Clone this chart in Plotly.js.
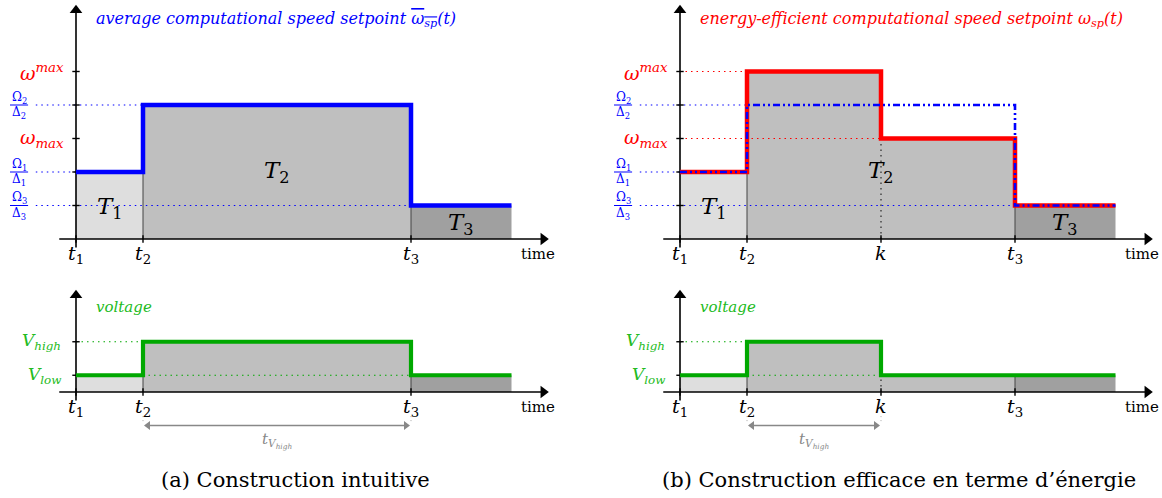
<!DOCTYPE html>
<html><head><meta charset="utf-8">
<script src="https://cdn.plot.ly/plotly-3.0.1.min.js"></script>
<style>html,body{margin:0;padding:0;background:#fff}</style>
</head><body><div id="chart" style="width:1162px;height:498px"></div>
<script>
// ---------------- data ----------------
const taskBounds = [0, 2, 10, 13];          // t1, t2, t3, end of T3
const timeTickVals = [0, 2, 10];             // t1, t2, t3
const timeTickNames = ['1', '2', '3'];
const kTime = 6;                             // switching instant k
const avgTimes = [0, 2, 10, 13];
const avgSpeed = [2, 4, 1];                  // Ω1/Δ1, Ω2/Δ2, Ω3/Δ3
const effTimes = [0, 2, 6, 10, 13];
const effSpeed = [2, 5, 3, 1];               // energy-efficient setpoint
const fracLevels = [4, 2, 1];
const fracIndex = ['2', '1', '3'];
const omegaLevels = [5, 3];
const omegaLabels = ['ω<sup>max</sup>', 'ω<sub>max</sub>'];
const voltATimes = [0, 2, 10, 13];
const voltAValues = [0.5, 1.5, 0.5];
const voltBTimes = [0, 2, 6, 13];
const voltBValues = [0.5, 1.5, 0.5];
const vLevels = [1.5, 0.5];
const vLabels = ['V<sub>high</sub>', 'V<sub>low</sub>'];
const taskNames = ['1', '2', '3'];
const fillColors = ['#dedede', '#bfbfbf', '#a0a0a0'];

// ---------------- geometry ----------------
const W = 1162, H = 498, S = 33.5;
const FONT = 'DejaVu Serif, serif';
const BLUE = '#0000ff', RED = '#ff0000', GREEN = '#00a800', GLAB = '#22bb22', GRAY = '#888888';

const panels = {
  aTop: {xa: 'x',  ya: 'y',  ox: 76,  oy: 239, px: [0, 580],    py: [0, 262]},
  aBot: {xa: 'x2', ya: 'y2', ox: 76,  oy: 392, px: [0, 580],    py: [262, 462]},
  bTop: {xa: 'x3', ya: 'y3', ox: 680, oy: 239, px: [581, 1162], py: [0, 262]},
  bBot: {xa: 'x4', ya: 'y4', ox: 680, oy: 392, px: [581, 1162], py: [262, 462]}
};

const layout = {
  width: W, height: H, margin: {l: 0, r: 0, t: 0, b: 0},
  paper_bgcolor: '#fff', plot_bgcolor: 'rgba(0,0,0,0)', showlegend: false,
  font: {family: FONT},
  annotations: [], shapes: []
};
Object.values(panels).forEach(p => {
  const xn = p.xa === 'x' ? 'xaxis' : 'xaxis' + p.xa.slice(1);
  const yn = p.ya === 'y' ? 'yaxis' : 'yaxis' + p.ya.slice(1);
  layout[xn] = {domain: [p.px[0] / W, p.px[1] / W], range: [(p.px[0] - p.ox) / S, (p.px[1] - p.ox) / S],
    visible: false, fixedrange: true, anchor: p.ya};
  layout[yn] = {domain: [1 - p.py[1] / H, 1 - p.py[0] / H], range: [(p.oy - p.py[1]) / S, (p.oy - p.py[0]) / S],
    visible: false, fixedrange: true, anchor: p.xa};
});

const traces = [];
function line(p, xs, ys, color, width, dash) {
  traces.push({type: 'scatter', mode: 'lines', x: xs, y: ys, xaxis: p.xa, yaxis: p.ya,
    line: {color: color, width: width, dash: dash || 'solid'}, hoverinfo: 'skip', cliponaxis: false});
}
function marker(p, x, y, sym, color, size) {
  traces.push({type: 'scatter', mode: 'markers', x: [x], y: [y], xaxis: p.xa, yaxis: p.ya,
    marker: {symbol: sym, color: color, size: size, line: {width: 0}}, hoverinfo: 'skip', cliponaxis: false});
}
function stepXY(times, vals) {
  const x = [], y = [];
  for (let j = 0; j < vals.length; j++) { x.push(times[j], times[j + 1]); y.push(vals[j], vals[j]); }
  return {x, y};
}
function valueAt(times, vals, t) {
  for (let j = 0; j < vals.length; j++) if (t >= times[j] && t < times[j + 1]) return vals[j];
  return vals[vals.length - 1];
}
function firstTimeAt(times, vals, v) {
  for (let j = 0; j < vals.length; j++) if (vals[j] === v) return times[j];
  return times[0];
}
function regionFills(p, times, vals) {
  for (let i = 0; i < taskBounds.length - 1; i++) {
    const a = taskBounds[i], b = taskBounds[i + 1];
    const x = [a], y = [0];
    for (let j = 0; j < vals.length; j++) {
      const s = Math.max(a, times[j]), e = Math.min(b, times[j + 1]);
      if (e > s) { x.push(s, e); y.push(vals[j], vals[j]); }
    }
    x.push(b, a); y.push(0, 0);
    traces.push({type: 'scatter', mode: 'lines', x: x, y: y, xaxis: p.xa, yaxis: p.ya, fill: 'toself',
      fillcolor: fillColors[i], line: {width: 0}, hoverinfo: 'skip'});
  }
  for (let i = 1; i < taskBounds.length - 1; i++) {
    const t = taskBounds[i];
    const h = Math.min(valueAt(times, vals, t - 0.01), valueAt(times, vals, t + 0.01));
    line(p, [t, t], [0, h], '#444', 1);
  }
}
function ann(p, text, x, y, size, color, opts) {
  layout.annotations.push(Object.assign({text: text, x: x, y: y, xref: p.xa, yref: p.ya, showarrow: false,
    xanchor: 'center', yanchor: 'middle', font: {family: FONT, size: size, color: color}}, opts || {}));
}
function axes(p, yTop, xTicks, yTicks) {
  line(p, [-0.5, 13.95], [0, 0], '#000', 1.6);
  line(p, [0, 0], [-0.25, yTop - 0.15], '#000', 1.6);
  marker(p, 13.95, 0, 'triangle-right', '#000', 11);
  marker(p, 0, yTop - 0.15, 'triangle-up', '#000', 11);
  const tx = [], ty = [];
  xTicks.forEach(v => { tx.push(v, v, null); ty.push(-0.11, 0.11, null); });
  yTicks.forEach(v => { tx.push(-0.11, 0.11, null); ty.push(v, v, null); });
  line(p, tx, ty, '#000', 1.4);
  ann(p, 'time', 13.8, -0.45, 15, '#000');
}
function timeLabels(p, withK) {
  timeTickVals.forEach((v, i) => ann(p, '<i>t</i><sub>' + timeTickNames[i] + '</sub>', v, -0.45, 19, '#000'));
  if (withK) ann(p, '<i>k</i>', kTime, -0.42, 19, '#000');
}

// ---------------- top panels ----------------
function topPanel(p, efficient) {
  const prof = efficient ? {t: effTimes, v: effSpeed} : {t: avgTimes, v: avgSpeed};
  regionFills(p, prof.t, prof.v);
  if (efficient) line(p, [kTime, kTime], [0, valueAt(effTimes, effSpeed, kTime)], '#333', 1.3, '1.5px,4px');
  fracLevels.forEach(l => line(p, [-1.2, firstTimeAt(avgTimes, avgSpeed, l)], [l, l], BLUE, 1.1, '1.5px,4px'));
  if (efficient) omegaLevels.forEach(l => line(p, [0, firstTimeAt(effTimes, effSpeed, l)], [l, l], RED, 1.1, '1.5px,4px'));
  axes(p, 6.98, efficient ? timeTickVals.concat([kTime]) : timeTickVals, fracLevels.concat(omegaLevels));
  const a = stepXY(avgTimes, avgSpeed);
  if (efficient) {
    const e = stepXY(effTimes, effSpeed);
    line(p, e.x, e.y, RED, 4.5);
    line(p, a.x, a.y, BLUE, 2.6, '7px,3px,2px,3px,2px,3px');
  } else {
    line(p, a.x, a.y, BLUE, 4.5);
  }
  timeLabels(p, efficient);
  fracLevels.forEach((l, i) => {
    ann(p, 'Ω<sub>' + fracIndex[i] + '</sub>', -1.7, l + 0.22, 12, BLUE);
    ann(p, 'Δ<sub>' + fracIndex[i] + '</sub>', -1.7, l - 0.24, 12, BLUE);
    layout.shapes.push({type: 'line', xref: p.xa, yref: p.ya, x0: -1.97, x1: -1.43, y0: l, y1: l,
      line: {color: BLUE, width: 1}});
  });
  omegaLevels.forEach((l, i) => ann(p, '<i>' + omegaLabels[i] + '</i>', -0.3, l, 19, RED, {xanchor: 'right'}));
  const tx = [1, 6, 11.5], ty = [0.93, 2.0, 0.45];
  taskNames.forEach((n, i) => ann(p, '<i>T</i><sub>' + n + '</sub>', tx[i], ty[i], 23, '#000'));
  if (efficient) {
    ann(p, '<i>energy-efficient computational speed setpoint ω<sub>sp</sub>(t)</i>', 0.55, 6.55, 16, RED, {xanchor: 'left'});
  } else {
    ann(p, '<i>average computational speed setpoint <span style="text-decoration:overline">ω<sub>sp</sub></span>(t)</i>', 0.55, 6.55, 16, BLUE, {xanchor: 'left'});
  }
}

// ---------------- bottom panels ----------------
function botPanel(p, times, vals, withK) {
  regionFills(p, times, vals);
  const hiStart = firstTimeAt(times, vals, vLevels[0]);
  const hiEnd = times[vals.indexOf(vLevels[0]) + 1];
  if (withK) line(p, [kTime, kTime], [0, valueAt(times, vals, kTime)], '#333', 1.3, '1.5px,4px');
  line(p, [0, hiStart], [vLevels[0], vLevels[0]], GREEN, 1.1, '1.5px,4px');
  line(p, [hiStart, hiEnd], [vLevels[1], vLevels[1]], GREEN, 1.1, '1.5px,4px');
  axes(p, 3.04, withK ? timeTickVals.concat([kTime]) : timeTickVals, vLevels);
  const v = stepXY(times, vals);
  line(p, v.x, v.y, GREEN, 4.2);
  timeLabels(p, withK);
  vLabels.forEach((t, i) => ann(p, '<i>' + t + '</i>', -0.4, vLevels[i], 17, GLAB, {xanchor: 'right'}));
  ann(p, '<i>voltage</i>', 0.55, 2.54, 15, GLAB, {xanchor: 'left'});
  line(p, [hiStart, hiStart], [-0.72, -0.95], '#aaa', 1, '1px,3px');
  line(p, [hiEnd, hiEnd], [-0.72, -0.95], '#aaa', 1, '1px,3px');
  line(p, [hiStart + 0.15, hiEnd - 0.15], [-1.0, -1.0], GRAY, 1.3);
  marker(p, hiStart + 0.15, -1.0, 'triangle-left', GRAY, 8);
  marker(p, hiEnd - 0.15, -1.0, 'triangle-right', GRAY, 8);
  ann(p, '<i>t<sub>V<sub>high</sub></sub></i>', (hiStart + hiEnd) / 2, -1.45, 15, GRAY);
}

topPanel(panels.aTop, false);
topPanel(panels.bTop, true);
botPanel(panels.aBot, voltATimes, voltAValues, false);
botPanel(panels.bBot, voltBTimes, voltBValues, true);

layout.annotations.push({text: '(a) Construction intuitive', x: 295 / W, y: 1 - 480 / H, xref: 'paper', yref: 'paper',
  showarrow: false, xanchor: 'center', yanchor: 'middle', font: {family: FONT, size: 21, color: '#000'}});
layout.annotations.push({text: '(b) Construction efficace en terme d’énergie', x: 899 / W, y: 1 - 480 / H, xref: 'paper', yref: 'paper',
  showarrow: false, xanchor: 'center', yanchor: 'middle', font: {family: FONT, size: 21, color: '#000'}});

Plotly.newPlot('chart', traces, layout, {staticPlot: true, displayModeBar: false});
</script></body></html>
